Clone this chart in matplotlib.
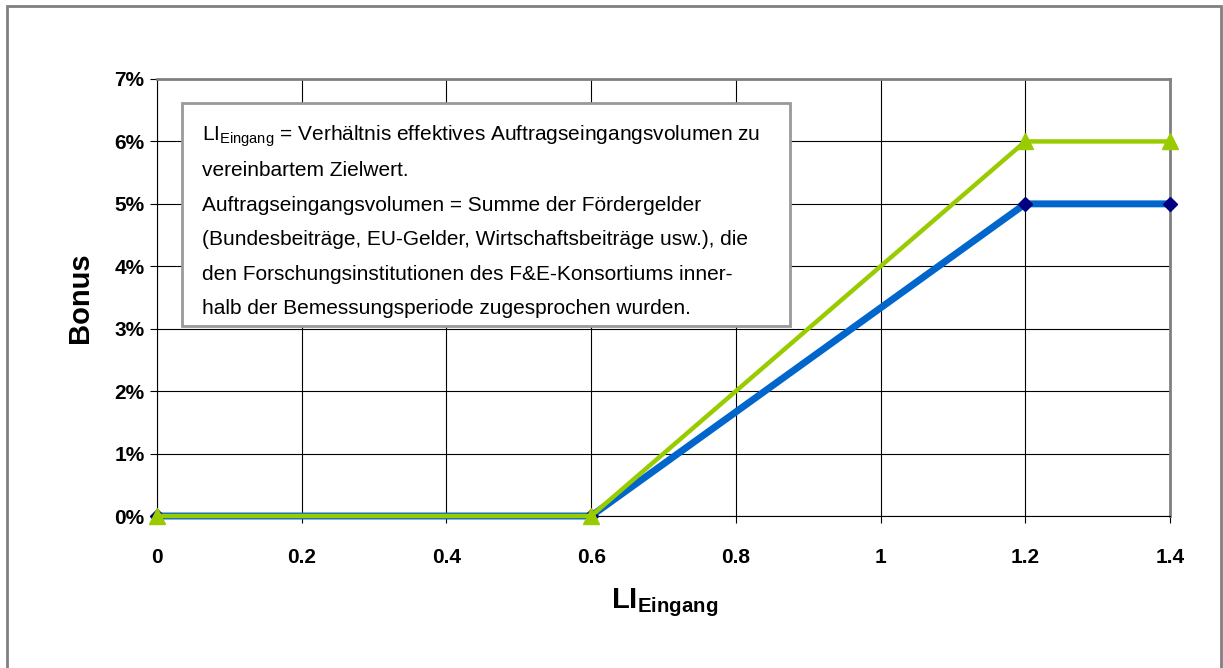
import matplotlib.pyplot as plt
import matplotlib.patches as patches
from matplotlib.ticker import FuncFormatter

plt.rcParams['font.family'] = ['Liberation Sans', 'DejaVu Sans']
plt.rcParams['mathtext.fontset'] = 'custom'
plt.rcParams['mathtext.rm'] = 'Liberation Sans'
plt.rcParams['mathtext.bf'] = 'Liberation Sans:bold'

# data
li = [0, 0.6, 1.2, 1.4]
bonus_blue = [0.0, 0.0, 0.05, 0.05]
bonus_green = [0.0, 0.0, 0.06, 0.06]
xticks = [0, 0.2, 0.4, 0.6, 0.8, 1, 1.2, 1.4]
xticklabels = ["0", "0.2", "0.4", "0.6", "0.8", "1", "1.2", "1.4"]
yticks = [0, 0.01, 0.02, 0.03, 0.04, 0.05, 0.06, 0.07]

box_lines = [
    r"LI$_{\mathrm{Eingang}}$ = Verhältnis effektives Auftragseingangsvolumen zu",
    "vereinbartem Zielwert.",
    "Auftragseingangsvolumen = Summe der Fördergelder",
    "(Bundesbeiträge, EU-Gelder, Wirtschaftsbeiträge usw.), die",
    "den Forschungsinstitutionen des F&E-Konsortiums inner-",
    "halb der Bemessungsperiode zugesprochen wurden.",
]

W, H = 1223, 668
fig = plt.figure(figsize=(W / 100, H / 100), dpi=100)

# outer frame
fig.patches.append(patches.Rectangle((7 / W, -0.1), (1221 - 7) / W, (H - 6) / H + 0.1,
                                     transform=fig.transFigure, fill=False,
                                     edgecolor='#808080', linewidth=2))

ax = fig.add_axes([157 / W, 1 - 516 / H, (1170 - 157) / W, (516 - 79) / H])

ax.plot(li, bonus_blue, color='#0066CC', linewidth=5, marker='D', markersize=7,
        markerfacecolor='#000080', markeredgecolor='#000080', clip_on=False, zorder=3)
ax.plot(li, bonus_green, color='#99CC00', linewidth=3.2, marker='^', markersize=12,
        markerfacecolor='#99CC00', markeredgecolor='#99CC00', clip_on=False, zorder=4)

ax.set_xlim(0, 1.4)
ax.set_ylim(0, 0.07)
ax.set_xticks(xticks)
ax.set_xticklabels(xticklabels)
ax.set_yticks(yticks)
ax.yaxis.set_major_formatter(FuncFormatter(lambda v, p: "%d%%" % round(v * 100)))
ax.grid(True, color='black', linewidth=0.8)
ax.set_axisbelow(True)

for lbl in ax.get_xticklabels() + ax.get_yticklabels():
    lbl.set_fontweight('bold')
    lbl.set_fontsize(15)
ax.tick_params(axis='both', direction='out', length=5, width=0.8, colors='black')
ax.tick_params(axis='x', pad=18)
ax.tick_params(axis='y', pad=4)

ax.spines['left'].set_color('black')
ax.spines['bottom'].set_color('black')
ax.spines['top'].set_color('#808080')
ax.spines['right'].set_color('#808080')
ax.spines['top'].set_linewidth(2)
ax.spines['right'].set_linewidth(2)

fig.text(80 / W, 1 - 298 / H, "Bonus", rotation=90, fontsize=21, fontweight='bold',
         ha='center', va='center')
fig.text(665 / W, 1 - 603 / H, r"$\mathbf{LI}_{\mathbf{Eingang}}$", fontsize=21,
         ha='center', va='center')

# annotation box
fig.patches.append(patches.Rectangle((182 / W, 1 - 326 / H), (790 - 182) / W, (326 - 103) / H,
                                     transform=fig.transFigure, facecolor='white',
                                     edgecolor='#999999', linewidth=2, zorder=5))
y0 = 136
for i, line in enumerate(box_lines):
    fig.text(202 / W, 1 - (y0 + i * 34.5) / H, line, fontsize=15, ha='left',
             va='center', zorder=6)

fig.savefig("out.png", dpi=100)
